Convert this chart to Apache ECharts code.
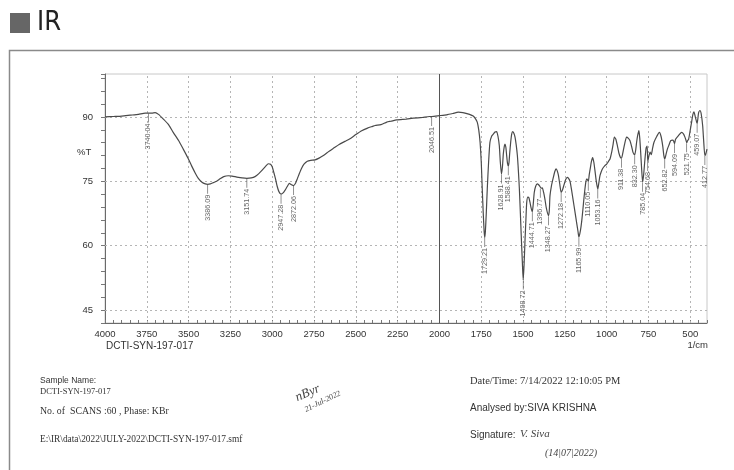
<!DOCTYPE html>
<html>
<head>
<meta charset="utf-8">
<script src="https://cdn.jsdelivr.net/npm/echarts@6/dist/echarts.min.js"></script>
<style>
html,body{margin:0;padding:0;background:#fff;}
#chart{width:734px;height:470px;}
</style>
</head>
<body>
<div id="chart"></div>
<script>
// Spectrum trace (wavenumber in 1/cm, %T)
const wavenumber = [4000,3950,3900,3850,3800,3760,3740,3720,3700,3680,3651,3620,3592,3560,3532,3505,3482,3460,3442,3420,3400,3386,3370,3352,3330,3312,3290,3263,3240,3212,3180,3152,3125,3103,3080,3063,3040,3023,3010,3000,2990,2980,2970,2960,2947,2935,2924,2910,2898,2885,2872,2860,2850,2840,2825,2810,2790,2770,2744,2720,2694,2660,2630,2600,2565,2535,2500,2465,2430,2400,2385,2350,2315,2290,2256,2200,2156,2100,2060,2046,2000,1957,1920,1887,1860,1847,1820,1798,1785,1774,1765,1757,1750,1744,1738,1733,1729,1725,1720,1714,1706,1698,1688,1678,1668,1658,1650,1642,1636,1629,1623,1618,1612,1608,1603,1598,1593,1588,1584,1580,1574,1568,1562,1555,1548,1541,1534,1528,1522,1516,1510,1504,1499,1494,1488,1483,1478,1471,1465,1459,1453,1445,1440,1433,1425,1415,1407,1399,1392,1385,1377,1369,1361,1348,1343,1339,1330,1319,1310,1303,1296,1289,1281,1272,1264,1255,1245,1236,1228,1219,1210,1200,1190,1179,1171,1166,1157,1149,1142,1136,1130,1124,1118,1110,1104,1098,1092,1084,1077,1070,1062,1053,1047,1040,1032,1024,1012,1000,990,980,970,962,954,945,936,927,917,911,901,892,881,870,861,850,843,836,832,826,821,814,807,802,797,791,785,779,771,764,758,754,747,740,733,725,717,700,685,675,665,658,652,645,637,627,617,605,600,594,588,572,552,540,532,526,521,516,510,500,492,485,478,470,462,459,455,450,442,435,426,420,413,408,400];
const transmittance = [90.0,90.1,90.2,90.4,90.6,90.9,90.9,90.9,91.0,90.6,89.5,88.2,86.4,84.5,82.5,80.5,78.6,76.9,75.7,74.8,74.4,74.3,74.4,74.7,75.1,75.6,76.1,76.3,76.2,76.0,75.8,75.7,75.8,76.1,76.8,77.5,78.5,79.1,79.0,78.4,77.0,75.5,73.8,72.6,72.0,72.3,72.9,73.8,74.5,74.2,74.0,74.6,75.6,76.6,78.0,79.0,79.7,79.9,80.0,80.4,81.0,82.0,82.8,83.6,84.3,84.9,85.9,86.8,87.4,87.8,88.0,88.2,88.8,89.0,89.3,89.5,89.7,89.9,90.1,90.1,90.3,90.5,90.8,91.1,91.0,90.9,90.6,90.2,89.6,88.8,87.0,84.1,79.5,73.2,67.5,63.5,61.9,63.5,67.5,73.2,79.5,84.1,85.5,86.0,86.5,86.6,85.5,83.3,79.5,76.7,78.5,81.4,83.2,83.7,83.0,81.0,79.2,78.6,79.4,81.5,84.1,86.0,86.6,86.2,85.3,83.5,81.0,77.5,73.2,67.5,61.5,56.0,52.0,55.5,61.5,66.0,70.1,71.3,71.2,70.2,69.0,67.9,69.3,72.4,73.8,74.4,74.2,73.8,73.4,73.5,72.4,70.8,68.8,67.0,68.2,71.6,74.0,75.9,77.3,77.9,77.5,76.5,74.5,72.4,73.0,74.2,75.4,75.9,75.7,75.0,73.0,70.5,68.0,65.2,63.2,62.0,63.5,65.8,68.5,71.0,73.2,75.0,75.6,75.0,76.6,78.0,79.5,80.5,79.5,77.5,75.0,73.2,74.6,76.3,77.3,78.0,78.6,79.0,79.6,80.2,81.8,83.5,85.3,84.8,83.3,81.6,80.5,80.4,82.1,83.8,85.3,85.0,84.5,83.0,81.8,81.3,81.2,82.4,84.1,85.8,86.8,85.0,82.0,78.0,74.8,76.5,80.2,82.8,83.2,79.6,81.0,81.8,81.2,82.8,84.1,85.5,86.4,85.5,83.3,81.0,80.2,81.3,82.5,83.5,84.5,84.6,84.4,83.8,84.8,85.6,86.4,86.0,85.3,84.6,84.0,84.5,84.8,87.0,88.8,90.5,91.2,90.0,88.8,88.5,89.5,91.0,91.5,90.8,88.0,84.5,81.0,81.3,82.5];

// Labelled peaks
const peakWavenumber = [3740.04,3386.09,3151.74,2947.28,2872.06,2046.51,1729.21,1628.91,1588.41,1498.72,1444.71,1396.77,1348.27,1272.18,1165.99,1110.05,1053.16,911.38,832.30,785.04,754.68,652.82,594.09,521.75,459.07,412.77];
const peakT = [90.9,74.3,75.7,72.0,74.0,90.1,61.9,76.7,78.6,52.0,67.9,73.4,67.0,72.4,62.0,75.0,73.2,80.4,81.2,74.8,79.6,80.2,83.8,84.0,88.5,81.0];

// Axis ranges / ticks
const xMin = 400, xMax = 4000, xMinorStep = 50, xLabelStep = 250;
const yMin = 42, yMax = 100, yMinorStep = 3, yLabelStep = 15;
const xGridValues = [3750,3500,3250,3000,2750,2500,2250,2000,1750,1500,1250,1000,750,500];
const yGridValues = [45,60,75,90];
const splitMarker = 2000;

const chart = echarts.init(document.getElementById('chart'), null, {renderer:'canvas'});

const gridLines = [];
xGridValues.forEach(v => {
  if (v === splitMarker) {
    gridLines.push({xAxis: v, lineStyle:{type:'solid', color:'#555', width:1}});
  } else {
    gridLines.push({xAxis: v, lineStyle:{type:[2,3], color:'#b5b5b5', width:1}});
  }
});
yGridValues.forEach(v => gridLines.push({yAxis: v, lineStyle:{type:[2,3], color:'#b5b5b5', width:1}}));

const sans = "'Liberation Sans', Arial, sans-serif";
const serif = "'Liberation Serif', 'Times New Roman', serif";

const option = {
  animation: false,
  grid: {left:105, right:27, top:74, bottom:147, show:true, borderColor:'#c8c8c8', borderWidth:1},
  xAxis: {
    type:'value', inverse:true, min:xMin, max:xMax, interval:xMinorStep,
    axisLine:{onZero:false, lineStyle:{color:'#6a6a6a', width:1}},
    axisTick:{inside:true, length:3, lineStyle:{color:'#777'}},
    axisLabel:{formatter: v => (v % xLabelStep === 0 ? String(v) : ''), color:'#333', fontSize:9.5, margin:6, fontFamily:sans},
    splitLine:{show:false}
  },
  yAxis: {
    type:'value', min:yMin, max:yMax, interval:yMinorStep,
    axisLine:{show:true, onZero:false, lineStyle:{color:'#6a6a6a', width:1}},
    axisTick:{show:true, length:4, lineStyle:{color:'#777'}},
    axisLabel:{formatter: v => (v % yLabelStep === 0 ? String(v) : ''), color:'#333', fontSize:9.5, margin:12, fontFamily:sans},
    splitLine:{show:false}
  },
  series: [
    {
      type:'line',
      data: wavenumber.map((w,i) => [w, transmittance[i]]),
      symbol:'none',
      smooth:0.2,
      lineStyle:{color:'#4a4a4a', width:1.2},
      z:3,
      markLine:{
        silent:true, symbol:['none','none'], label:{show:false},
        data: gridLines,
        z:1
      }
    },
    {
      type:'scatter',
      data: peakWavenumber.map((w,i) => [w, peakT[i]]),
      symbol:'rect',
      symbolSize:[0.8, 9],
      symbolOffset:[0, 5],
      itemStyle:{color:'#555'},
      z:4,
      label:{
        show:true, position:'bottom', distance:1, rotate:90,
        align:'right', verticalAlign:'middle',
        formatter: p => p.value[0].toFixed(2),
        fontSize:7.2, color:'#3a3a3a', fontFamily:"'Liberation Sans Narrow', 'Liberation Sans', sans-serif"
      }
    }
  ],
  graphic: [
    {type:'rect', shape:{x:9.5, y:50.5, width:800, height:500}, style:{fill:'none', stroke:'#8a8a8a', lineWidth:1.5}, silent:true},
    {type:'rect', shape:{x:10, y:13, width:20, height:20}, style:{fill:'#666'}, silent:true},
    {type:'text', x:37, y:23, style:{text:'IR', fontSize:27, fill:'#222', fontFamily:"'DejaVu Sans Condensed', 'DejaVu Sans', sans-serif", verticalAlign:'middle', align:'left'}},
    {type:'text', x:77, y:152, style:{text:'%T', fontSize:9.5, fill:'#333', fontFamily:sans, verticalAlign:'middle'}},
    {type:'text', x:106, y:346, style:{text:'DCTI-SYN-197-017', fontSize:10, fill:'#333', fontFamily:sans, verticalAlign:'middle'}},
    {type:'text', x:708, y:345, style:{text:'1/cm', fontSize:9.5, fill:'#333', fontFamily:sans, verticalAlign:'middle', align:'right'}},
    {type:'text', x:40, y:381, style:{text:'Sample Name:', fontSize:8.5, fill:'#333', fontFamily:sans, verticalAlign:'middle'}},
    {type:'text', x:40, y:392, style:{text:'DCTI-SYN-197-017', fontSize:8.5, fill:'#333', fontFamily:serif, verticalAlign:'middle'}},
    {type:'text', x:40, y:411, style:{text:'No. of  SCANS :60 , Phase: KBr', fontSize:9.8, fill:'#333', fontFamily:serif, verticalAlign:'middle'}},
    {type:'text', x:40, y:440, style:{text:'E:\\IR\\data\\2022\\JULY-2022\\DCTI-SYN-197-017.smf', fontSize:9.4, fill:'#333', fontFamily:serif, verticalAlign:'middle'}},
    {type:'text', x:470, y:381, style:{text:'Date/Time: 7/14/2022 12:10:05 PM', fontSize:10.5, fill:'#333', fontFamily:serif, verticalAlign:'middle'}},
    {type:'text', x:470, y:408, style:{text:'Analysed by:SIVA KRISHNA', fontSize:10, fill:'#333', fontFamily:sans, verticalAlign:'middle'}},
    {type:'text', x:470, y:435, style:{text:'Signature:', fontSize:10, fill:'#333', fontFamily:sans, verticalAlign:'middle'}},
    {type:'text', x:520, y:434, style:{text:'V. Siva', fontSize:11, fill:'#444', fontFamily:serif, fontStyle:'italic', verticalAlign:'middle'}},
    {type:'text', x:545, y:453, style:{text:'(14|07|2022)', fontSize:10, fill:'#444', fontFamily:serif, fontStyle:'italic', verticalAlign:'middle'}},
    {type:'text', x:296, y:398, rotation:0.4, style:{text:'nByr', fontSize:13, fill:'#444', fontFamily:serif, fontStyle:'italic', verticalAlign:'middle'}},
    {type:'text', x:305, y:410, rotation:0.45, style:{text:'21-Jul-2022', fontSize:8, fill:'#444', fontFamily:serif, fontStyle:'italic', verticalAlign:'middle'}}
  ]
};
chart.setOption(option);
</script>
</body>
</html>
